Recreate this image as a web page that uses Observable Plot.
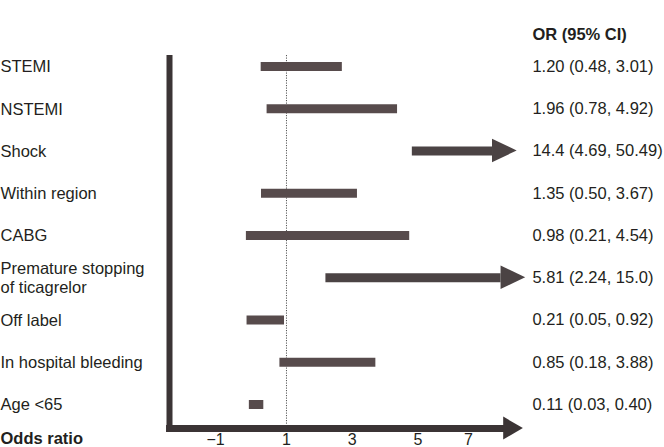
<!DOCTYPE html>
<html>
<head>
<meta charset="utf-8">
<script src="https://cdn.jsdelivr.net/npm/d3@7"></script>
<script src="https://cdn.jsdelivr.net/npm/@observablehq/plot@0.6"></script>
<style>
  html, body { margin: 0; padding: 0; background: #fff; }
  #chart { width: 664px; height: 447px; overflow: hidden; }
</style>
</head>
<body>
<div id="chart"></div>
<script>
// ---- data ----
const categories = ["STEMI", "NSTEMI", "Shock", "Within region", "CABG",
  "Premature stopping\nof ticagrelor", "Off label", "In hospital bleeding", "Age <65"];
// bar extents as drawn on the (non-log) axis
const barLow  = [0.23, 0.41, 4.83, 0.24, -0.22, 2.20, -0.20, 0.80, -0.13];
const barHigh = [2.70, 4.38, 8.02, 3.16, 4.75, 8.28, 0.94, 3.72, 0.31];
// rows whose interval runs off the scale (drawn as arrows)
const offScale = [false, false, true, false, false, true, false, false, false];
const orText = ["1.20 (0.48, 3.01)", "1.96 (0.78, 4.92)", "14.4 (4.69, 50.49)",
  "1.35 (0.50, 3.67)", "0.98 (0.21, 4.54)", "5.81 (2.24, 15.0)",
  "0.21 (0.05, 0.92)", "0.85 (0.18, 3.88)", "0.11 (0.03, 0.40)"];
const tickValues = [-1.16, 1, 3, 5, 6.54];
const tickLabels = ["\u22121", "1", "3", "5", "7"];

// ---- build table ----
const headLen = 0.75;   // arrow head length (x units)
const headHalf = 0.277; // arrow head half height (row units)
const rows = categories.map((c, i) => ({
  cat: c, row: i, lo: barLow[i], hi: barHigh[i], arrow: offScale[i], or: orText[i],
  shaftEnd: offScale[i] ? barHigh[i] - headLen : barHigh[i]
}));
const heads = [];
rows.filter(d => d.arrow).forEach(d => {
  heads.push({id: d.row, x: d.hi - headLen, y1: d.row - headHalf, y2: d.row + headHalf});
  heads.push({id: d.row, x: d.hi, y1: d.row, y2: d.row});
});
const xDomain = [-2.56, 8.21];
const yDomain = [-0.26, 8.663];
const axisRow = 8.57;
const axisHeadLen = 0.6;
heads.push({id: "axis", x: xDomain[1] - axisHeadLen, y1: axisRow - 0.272, y2: axisRow + 0.272});
heads.push({id: "axis", x: xDomain[1], y1: axisRow, y2: axisRow});
const ticks = tickValues.map((v, i) => ({x: v, label: tickLabels[i]}));

const barColor = "#574b4c";
const axisColor = "#3b3435";
const arrowColor = "#4b4344";
const textColor = "#231f20";
const fs = 16.5;

const plot = Plot.plot({
  width: 664,
  height: 447,
  marginLeft: 169,
  marginRight: 141.1,
  marginTop: 55,
  marginBottom: 15,
  style: {fontFamily: "'Liberation Sans', Arial, sans-serif", fontSize: fs + "px", color: textColor, background: "#fff"},
  x: {domain: xDomain, axis: null},
  y: {domain: yDomain, reverse: true, axis: null},
  marks: [
    Plot.ruleX([1], {stroke: "#555", strokeWidth: 1, strokeDasharray: "1.2,1.3"}),
    Plot.ruleX([xDomain[0]], {stroke: axisColor, strokeWidth: 6}),
    Plot.ruleY([axisRow], {x1: xDomain[0] - 0.09, x2: xDomain[1] - axisHeadLen + 0.05, stroke: axisColor, strokeWidth: 7}),
    Plot.ruleY(rows, {y: "row", x1: "lo", x2: "shaftEnd", stroke: d => d.arrow ? arrowColor : barColor, strokeWidth: 9}),
    Plot.areaY(heads, {x: "x", y1: "y1", y2: "y2", z: "id", fill: d => d.id === "axis" ? axisColor : arrowColor, curve: "linear"}),
    Plot.text(ticks, {x: "x", text: "label", frameAnchor: "bottom", dy: 7, lineAnchor: "middle", textAnchor: "middle", fontSize: 16, fill: textColor}),
    Plot.text(rows, {y: "row", text: "cat", frameAnchor: "left", dx: -169, textAnchor: "start", lineAnchor: "middle", fontSize: fs, fill: textColor, lineHeight: 1.1}),
    Plot.text(rows, {y: "row", text: "or", frameAnchor: "right", dx: 9, textAnchor: "start", lineAnchor: "middle", fontSize: fs, fill: textColor}),
    Plot.text(["OR (95% CI)"], {frameAnchor: "top-right", dx: 9, dy: -21, textAnchor: "start", lineAnchor: "middle", fontSize: fs, fontWeight: "bold", fill: textColor}),
    Plot.text(["Odds ratio"], {frameAnchor: "bottom-left", dx: -169, dy: 6, textAnchor: "start", lineAnchor: "middle", fontSize: fs, fontWeight: "bold", fill: textColor})
  ]
});
document.getElementById("chart").appendChild(plot);
</script>
</body>
</html>
